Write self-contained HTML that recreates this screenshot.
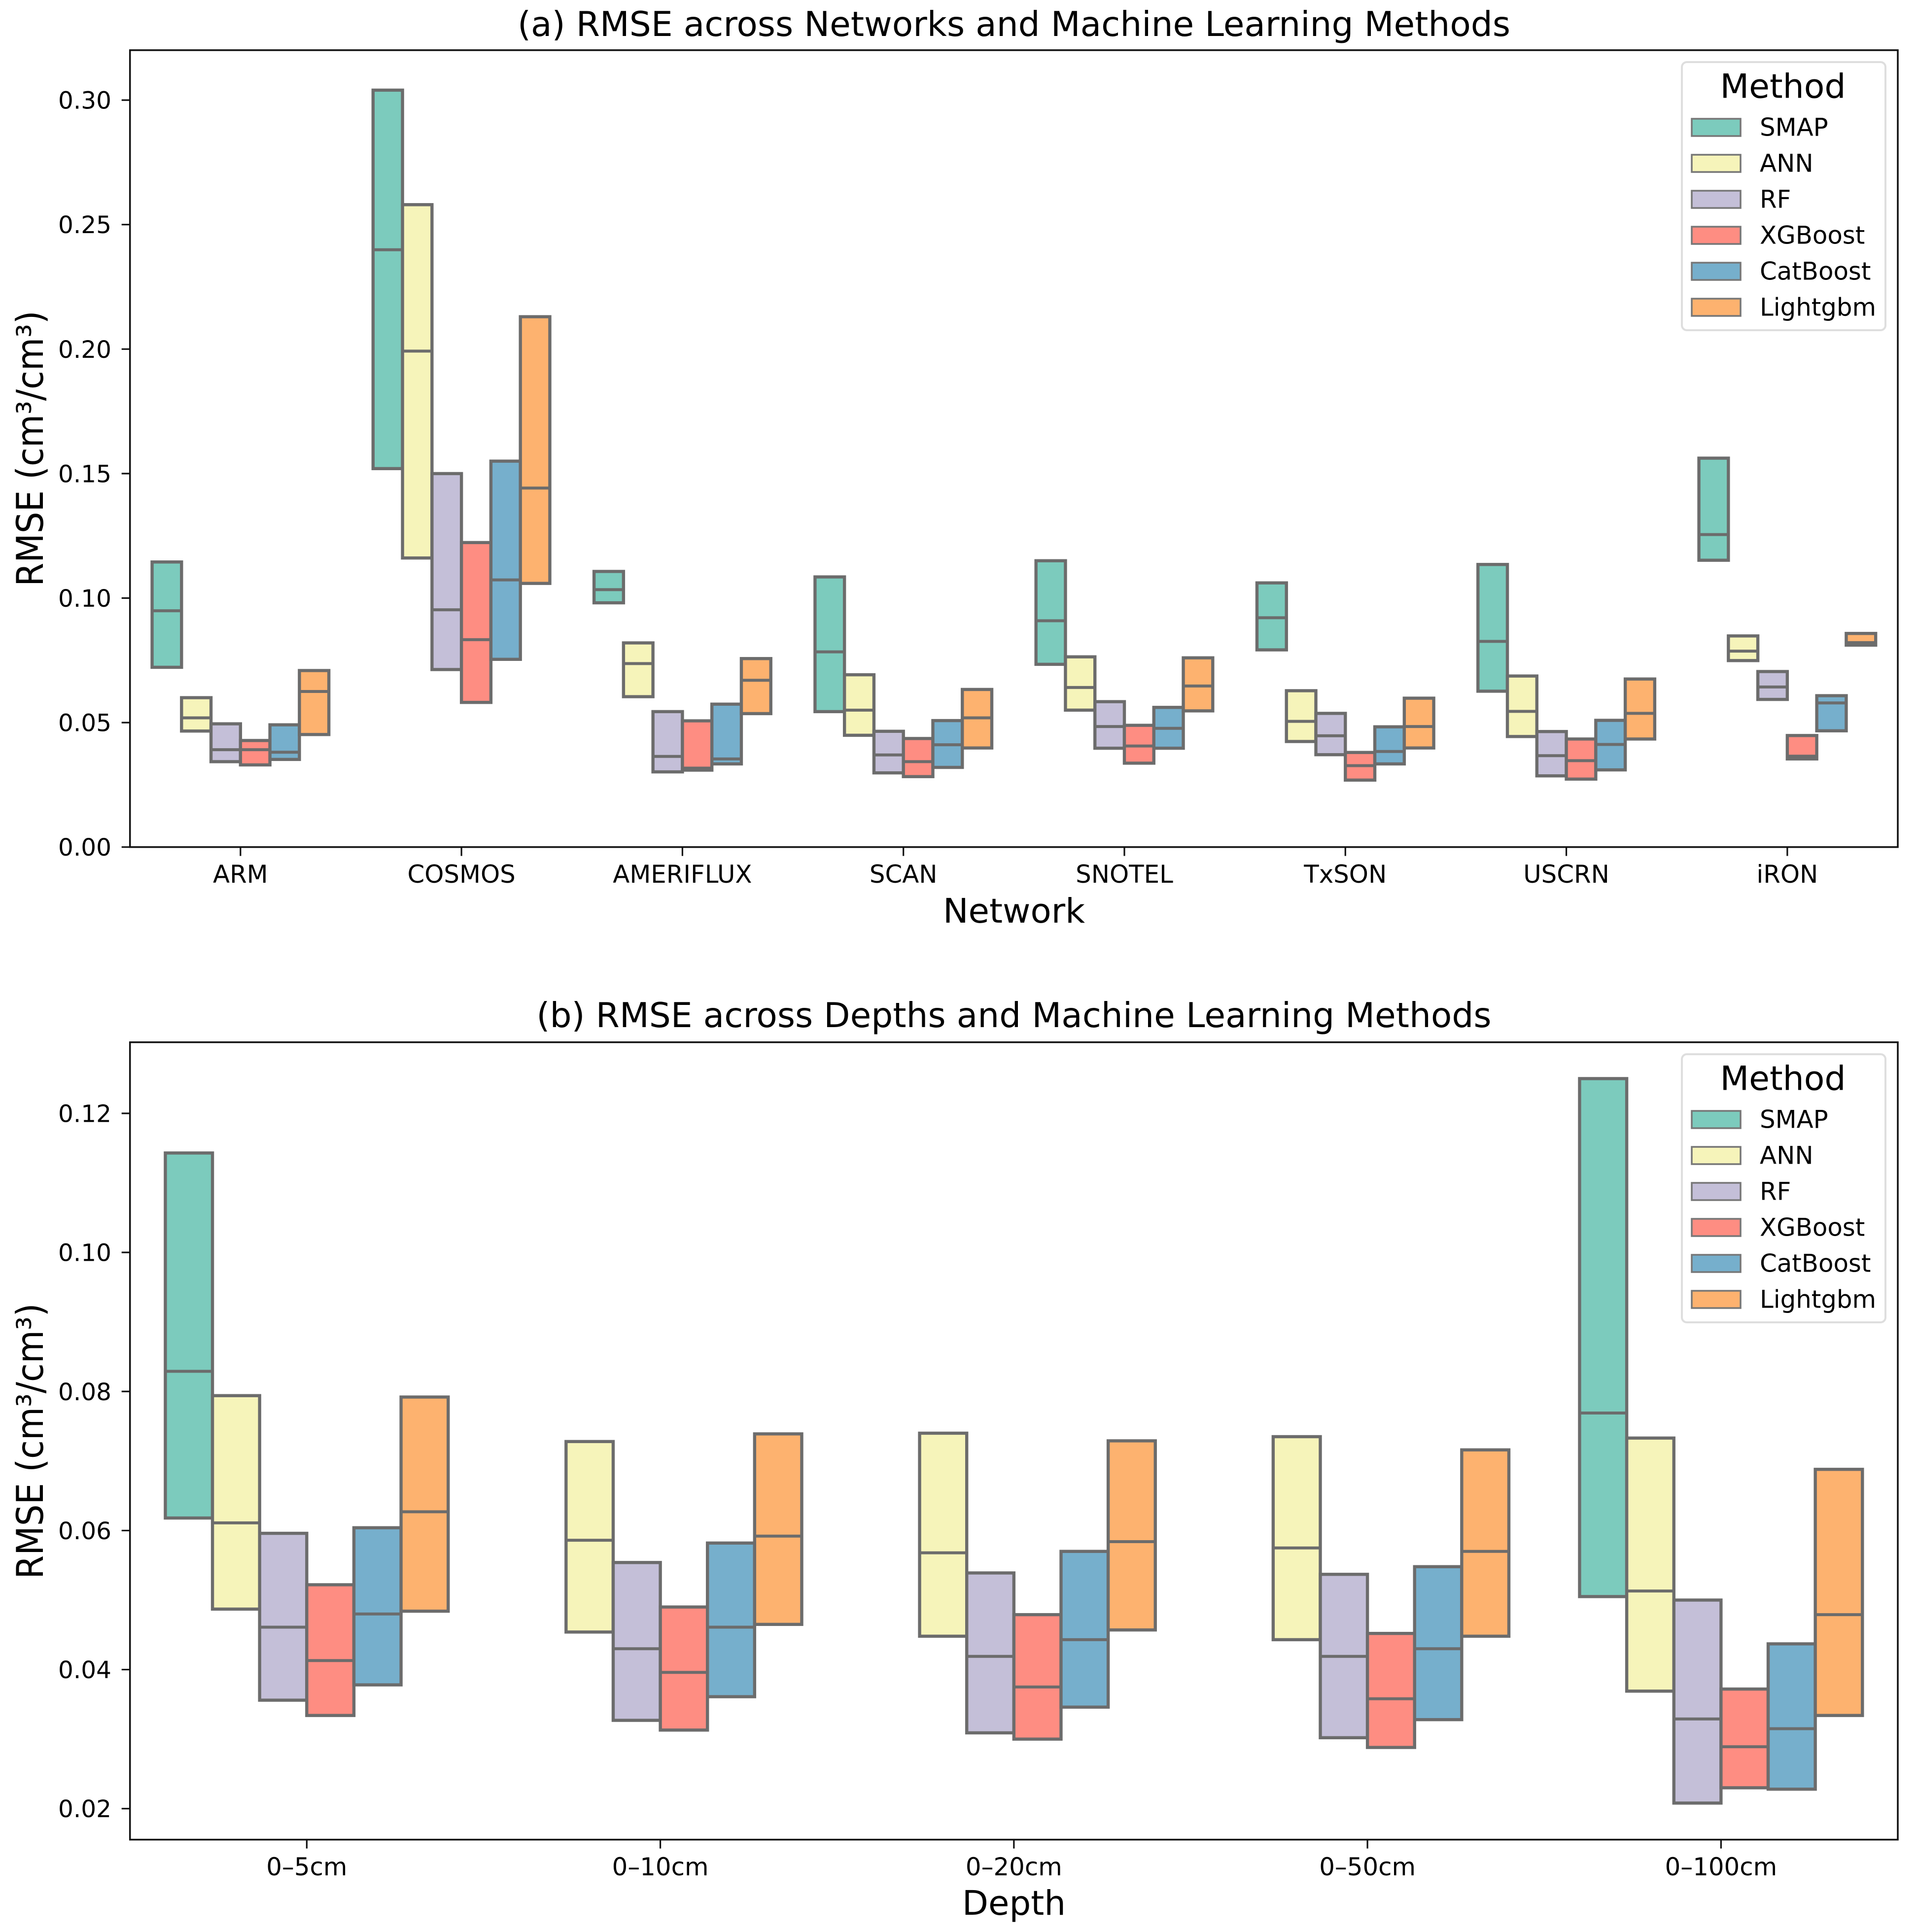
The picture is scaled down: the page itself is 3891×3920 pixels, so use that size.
<!DOCTYPE html>
<html lang="en">
<head>
<meta charset="utf-8">
<title>RMSE across Networks, Depths and Machine Learning Methods</title>
<style>
html,body{margin:0;padding:0;background:#fff;}
svg{display:block;}
text{font-family:"DejaVu Sans","Liberation Sans",sans-serif;fill:#000;}
</style>
</head>
<body>
<svg id="figure" xmlns="http://www.w3.org/2000/svg" width="3891" height="3920" viewBox="0 0 3891 3920">
  <rect x="0" y="0" width="3891" height="3920" fill="#ffffff"/>
  <g id="panel-a">
    <text x="2057" y="73" font-size="69.4" text-anchor="middle">(a) RMSE across Networks and Machine Learning Methods</text>
    <text x="2057" y="1872" font-size="69" text-anchor="middle">Network</text>
    <text transform="translate(87,910) rotate(-90) scale(1,1.08)" font-size="69" text-anchor="middle">RMSE (cm³/cm³)</text>
  </g>
  <g id="panel-b">
    <text x="2057" y="2084" font-size="69.4" text-anchor="middle">(b) RMSE across Depths and Machine Learning Methods</text>
    <text x="2057" y="3885" font-size="69" text-anchor="middle">Depth</text>
    <text transform="translate(87,2924) rotate(-90) scale(1,1.08)" font-size="69" text-anchor="middle">RMSE (cm³/cm³)</text>
  </g>
</svg>
<script>
// ---- Shared categories ----
const methods = ["SMAP", "ANN", "RF", "XGBoost", "CatBoost", "Lightgbm"];
const methodColors = ["#7ccbbd", "#f6f4ba", "#c4bfd8", "#fe8d82", "#76afcc", "#fdb26f"];

// ---- Panel (a): categories and ticks ----
const networks = ["ARM", "COSMOS", "AMERIFLUX", "SCAN", "SNOTEL", "TxSON", "USCRN", "iRON"];
const networkTicks = [0, 0.05, 0.10, 0.15, 0.20, 0.25, 0.30];
const networkTickLabels = ["0.00", "0.05", "0.10", "0.15", "0.20", "0.25", "0.30"];

// Panel (a) values per method, one row per network: [q1, median, q3]
const networkSMAP = [[0.0722,0.0949,0.1145],[0.152,0.2399,0.304],[0.0981,0.1034,0.1107],[0.0544,0.0784,0.1085],[0.0734,0.0909,0.115],[0.0792,0.0921,0.1061],[0.0626,0.0826,0.1135],[0.1152,0.1255,0.1562]];
const networkANN = [[0.0466,0.0519,0.06],[0.1161,0.1992,0.258],[0.0604,0.0737,0.082],[0.0449,0.055,0.0692],[0.055,0.0641,0.0764],[0.0424,0.0505,0.0628],[0.0444,0.0545,0.0687],[0.0749,0.0787,0.0848]];
const networkRF = [[0.0343,0.0391,0.0495],[0.0713,0.0953,0.15],[0.0302,0.0364,0.0544],[0.0298,0.037,0.0465],[0.0397,0.0484,0.0584],[0.0371,0.0447,0.0537],[0.0286,0.0367,0.0464],[0.0593,0.0643,0.0705]];
const networkXGBoost = [[0.033,0.0391,0.0428],[0.0581,0.0833,0.1223],[0.0309,0.0317,0.0507],[0.0283,0.0343,0.0436],[0.0337,0.0406,0.0489],[0.0269,0.0327,0.038],[0.0273,0.0347,0.0434],[0.0354,0.0365,0.0448]];
const networkCatBoost = [[0.0352,0.0381,0.0491],[0.0754,0.1073,0.155],[0.0334,0.0354,0.0574],[0.032,0.0411,0.0508],[0.0397,0.0477,0.0561],[0.0334,0.0384,0.0483],[0.031,0.0412,0.0509],[0.0467,0.0579,0.0608]];
const networkLightgbm = [[0.0452,0.0625,0.0709],[0.1059,0.1442,0.213],[0.0536,0.067,0.0757],[0.0398,0.0519,0.0633],[0.0547,0.0647,0.076],[0.0398,0.0484,0.0598],[0.0434,0.0537,0.0675],[0.0811,0.0821,0.0858]];

// ---- Panel (b): categories and ticks ----
const depths = ["0–5cm", "0–10cm", "0–20cm", "0–50cm", "0–100cm"];
const depthTicks = [0.02, 0.04, 0.06, 0.08, 0.10, 0.12];
const depthTickLabels = ["0.02", "0.04", "0.06", "0.08", "0.10", "0.12"];

// Panel (b) values per method, one row per depth: [q1, median, q3]; null = no box
const depthSMAP = [[0.0618,0.0829,0.1143],null,null,null,[0.0505,0.0769,0.125]];
const depthANN = [[0.0487,0.0611,0.0794],[0.0454,0.0586,0.0728],[0.0448,0.0568,0.074],[0.0443,0.0575,0.0735],[0.0369,0.0513,0.0733]];
const depthRF = [[0.0356,0.0461,0.0596],[0.0327,0.043,0.0554],[0.0309,0.0419,0.0539],[0.0302,0.0419,0.0537],[0.0208,0.0329,0.05]];
const depthXGBoost = [[0.0334,0.0413,0.0522],[0.0313,0.0396,0.049],[0.03,0.0375,0.0479],[0.0288,0.0358,0.0452],[0.023,0.0289,0.0372]];
const depthCatBoost = [[0.0378,0.048,0.0604],[0.0361,0.0461,0.0582],[0.0346,0.0443,0.057],[0.0328,0.043,0.0548],[0.0228,0.0315,0.0437]];
const depthLightgbm = [[0.0484,0.0627,0.0792],[0.0465,0.0592,0.0739],[0.0457,0.0584,0.0729],[0.0448,0.057,0.0716],[0.0334,0.0479,0.0688]];

const SVG_NS = "http://www.w3.org/2000/svg";
const BOX_LINE = "#6c6c6c";
const AXIS_LINE = "#111111";
const AXES_LEFT = 263.7;
const AXES_RIGHT = 3850;

function svgEl(parent, tag, attrs) {
  const el = document.createElementNS(SVG_NS, tag);
  Object.keys(attrs).forEach(function (k) { el.setAttribute(k, attrs[k]); });
  parent.appendChild(el);
  return el;
}

function slug(s) {
  return String(s).toLowerCase().replace(/[^a-z0-9]+/g, "-").replace(/^-|-$/g, "");
}

function drawPanel(panelId, prefix, cats, series, ticks, tickLabels, yAt, top, bottom, catLabelY, legendTop) {
  const root = document.getElementById(panelId);
  const step = (AXES_RIGHT - AXES_LEFT) / cats.length;
  const catX = function (i) { return AXES_LEFT + step * (i + 0.5); };
  const boxW = step * 0.8 / methods.length;
  const boxX = function (c, m) { return catX(c) - step * 0.4 + m * boxW; };

  // Boxes
  series.forEach(function (rows, m) {
    rows.forEach(function (row, c) {
      if (!row) return;
      const yLow = yAt(row[0]);
      const yMed = yAt(row[1]);
      const yHigh = yAt(row[2]);
      const g = svgEl(root, "g", {});
      
      
      const r = svgEl(g, "rect", { x: boxX(c, m), y: yHigh, width: boxW, height: yLow - yHigh, fill: methodColors[m], stroke: BOX_LINE, "stroke-width": 6.4 });
      
      
      const l = svgEl(g, "line", { x1: boxX(c, m), x2: boxX(c, m) + boxW, y1: yMed, y2: yMed, stroke: BOX_LINE, "stroke-width": 6 });
      
      
    });
  });

  // Frame
  const frame = svgEl(root, "rect", { x: AXES_LEFT, y: top, width: AXES_RIGHT - AXES_LEFT, height: bottom - top, fill: "none", stroke: AXIS_LINE, "stroke-width": 3.5 });
  
  

  // Y ticks
  ticks.forEach(function (v, i) {
    const y = yAt(v);
    const t = svgEl(root, "line", { x1: AXES_LEFT - 17, x2: AXES_LEFT, y1: y, y2: y, stroke: AXIS_LINE, "stroke-width": 3.2 });
    
    
    const lab = svgEl(root, "text", { x: 226, y: y + 17.5, "font-size": 48.5, "text-anchor": "end" });
    lab.textContent = tickLabels[i];
    
    
  });

  // X ticks
  cats.forEach(function (name, i) {
    const x = catX(i);
    const t = svgEl(root, "line", { x1: x, x2: x, y1: bottom, y2: bottom + 18, stroke: AXIS_LINE, "stroke-width": 3.2 });
    
    
    const lab = svgEl(root, "text", { x: x, y: catLabelY, "font-size": 49.8, "text-anchor": "middle" });
    lab.textContent = name;
    
    
  });

  // Legend
  const lg = svgEl(root, "g", {});
  
  
  const frameRect = svgEl(lg, "rect", { x: 3412, y: legendTop, width: 413, height: 544, rx: 10, ry: 10, fill: "#ffffff", "fill-opacity": 0.85, stroke: "#dedede", "stroke-width": 4 });
  
  
  const lt = svgEl(lg, "text", { x: 3617, y: legendTop + 72.5, "font-size": 68, "text-anchor": "middle" });
  lt.textContent = "Method";
  
  
  methods.forEach(function (name, i) {
    const rowY = legendTop + 115 + i * 73;
    const h = svgEl(lg, "rect", { x: 3432, y: rowY, width: 99, height: 35, fill: methodColors[i], stroke: "#777777", "stroke-width": 3.5 });
    
    
    const tx = svgEl(lg, "text", { x: 3570, y: rowY + 34.5, "font-size": 49.8 });
    tx.textContent = name;
    
    
  });
}

function yNetwork(v) { return 1718.7 - v * 5052; }
function yDepth(v) { return 3669.7 - (v - 0.02) * 14107; }

drawPanel("panel-a", "network", networks,
  [networkSMAP, networkANN, networkRF, networkXGBoost, networkCatBoost, networkLightgbm],
  networkTicks, networkTickLabels, yNetwork, 101.8, 1718.7, 1791, 126);

drawPanel("panel-b", "depth", depths,
  [depthSMAP, depthANN, depthRF, depthXGBoost, depthCatBoost, depthLightgbm],
  depthTicks, depthTickLabels, yDepth, 2114.7, 3732.6, 3805, 2139);
</script>
</body>
</html>
